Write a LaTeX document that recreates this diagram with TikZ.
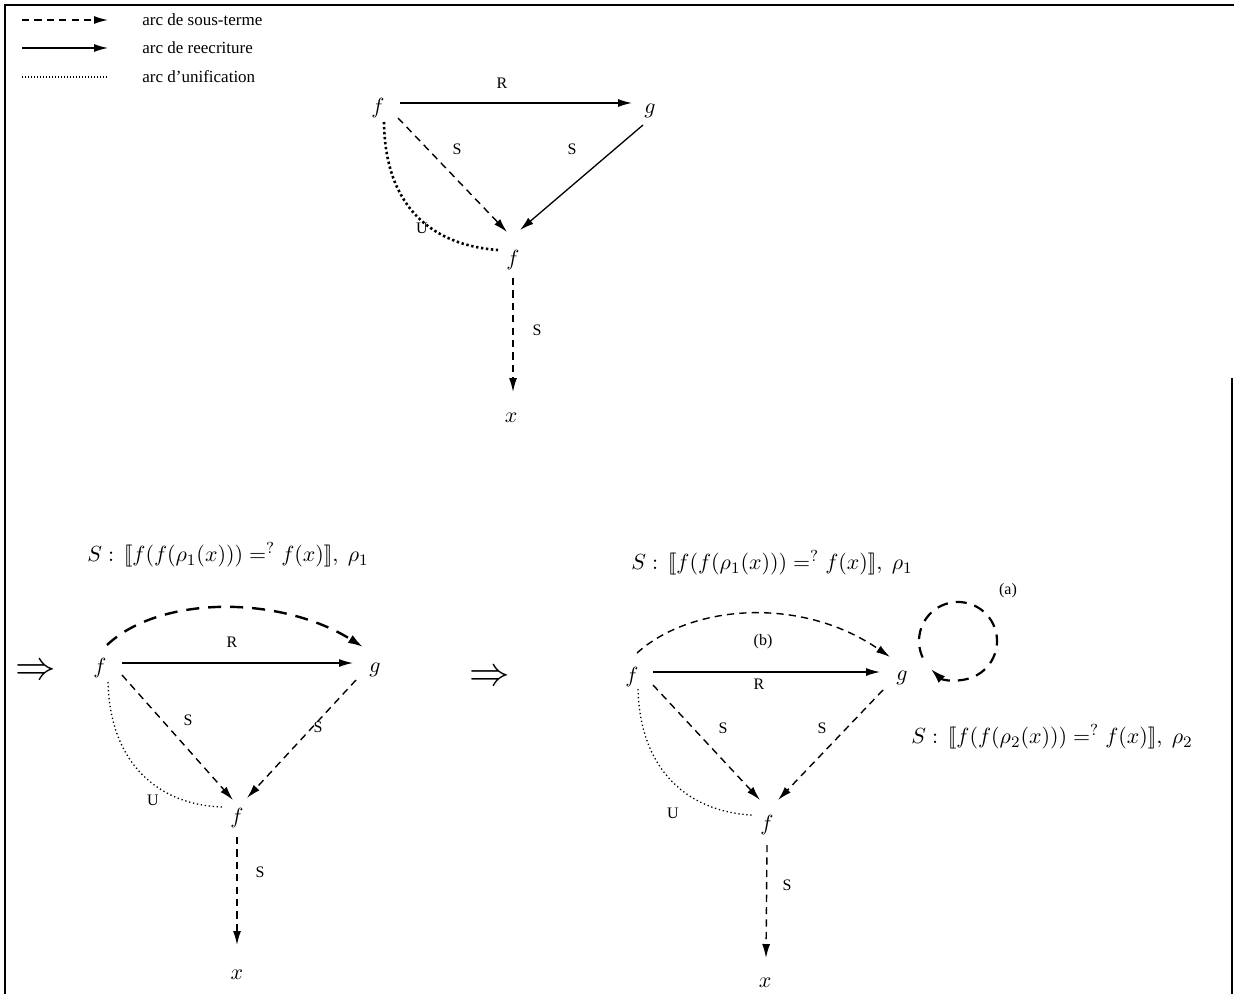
\documentclass[tikz,border=0pt]{standalone}
\usepackage{fontspec}
\setmainfont{Liberation Serif}
\usetikzlibrary{arrows.meta}

\tikzset{
  tipA/.style={-{Latex[length=7pt,width=4pt]}},
  subarc/.style={tipA, line width=0.7pt, dash pattern=on 3.6pt off 2.6pt},
  rwarc/.style={tipA, line width=0.65pt},
  unifarc/.style={line width=0.65pt, dash pattern=on 0.65pt off 1.35pt},
  unifthick/.style={line width=1.3pt, dash pattern=on 1.2pt off 1.3pt},
  bigdash/.style={-{Latex[length=7.5pt,width=4.6pt]}, line width=1.2pt, dash pattern=on 6.5pt off 4.5pt},
  lbl/.style={font=\fontsize{8}{9}\selectfont, inner sep=0pt},
  leg/.style={font=\fontsize{8.5}{10}\selectfont, inner sep=0pt, anchor=west},
  vtx/.style={inner sep=0pt, font=\fontsize{11}{13}\selectfont},
  eqn/.style={inner sep=0pt, font=\fontsize{11.25}{13}\selectfont},
  frame/.style={line width=0.9pt}
}

\begin{document}
\begin{tikzpicture}[x=0.5pt,y=0.5pt]
\useasboundingbox (0,0) rectangle (1234,-994);

% frame
\draw[frame] (5,-994) -- (5,-5) -- (1234,-5);
\draw[frame] (1232,-378) -- (1232,-994);

% legend
\coordinate (la1) at (22,-20);  \coordinate (lb1) at (108,-20);
\coordinate (la2) at (22,-48);  \coordinate (lb2) at (108,-48);
\coordinate (la3) at (22,-77);  \coordinate (lb3) at (108,-77);
\draw[subarc] (la1) -- (lb1);
\draw[rwarc] (la2) -- (lb2);
\draw[line width=0.6pt, dash pattern=on 0.6pt off 0.9pt] (la3) -- (lb3);
\node[leg] (lt1) at (142,-20) {arc de sous-terme};
\node[leg] (lt2) at (142,-48) {arc de reecriture};
\node[leg] (lt3) at (142,-77) {arc d’unification};

% ---- top graph
\node[vtx] (f1t) at (378,-108) {$f$};
\node[vtx] (gt)  at (650,-111) {$g$};
\node[vtx] (f2t) at (513,-260) {$f$};
\node[vtx] (xt)  at (511,-418) {$x$};
\draw[rwarc] ([shift={(22,5)}]f1t.center) -- ([shift={(-18,8)}]gt.center);
\draw[subarc] ([shift={(20,-10)}]f1t.center) -- ([shift={(-6,28)}]f2t.center);
\draw[rwarc] ([shift={(-7,-14)}]gt.center) -- ([shift={(7,30)}]f2t.center);
\draw[unifthick] ([shift={(6,-14)}]f1t.center) .. controls (385,-205) and (430,-245) .. ([shift={(-15,10)}]f2t.center);
\draw[subarc] ([shift={(0,-18)}]f2t.center) -- ([shift={(2,26)}]xt.center);
\node[lbl] (tR)  at (502,-83)  {R};
\node[lbl] (tS1) at (457,-149) {S};
\node[lbl] (tS2) at (572,-149) {S};
\node[lbl] (tU)  at (422,-228) {U};
\node[lbl] (tS3) at (537,-330) {S};

% ---- transition arrows
\node[vtx] (imp1) at (36,-672) {\scalebox{1.85}{$\Rightarrow$}};
\node[vtx] (imp2) at (490,-678) {\scalebox{1.85}{$\Rightarrow$}};

% ---- bottom left graph
\node[eqn] (eqL) at (228,-555) {$S:\,[\![f(f(\rho_1(x)))=^{?}f(x)]\!],\ \rho_1$};
\node[vtx] (f1l) at (100,-668) {$f$};
\node[vtx] (gl)  at (375,-670) {$g$};
\node[vtx] (f2l) at (237,-818) {$f$};
\node[vtx] (xl)  at (237,-975) {$x$};
\draw[rwarc] ([shift={(22,5)}]f1l.center) -- ([shift={(-22,7)}]gl.center);
\draw[bigdash] ([shift={(7,23)}]f1l.center) .. controls (160,-595) and (280,-595) .. ([shift={(-12,23)}]gl.center);
\draw[subarc] ([shift={(22,-7)}]f1l.center) -- ([shift={(-4,18)}]f2l.center);
\draw[subarc] ([shift={(-19,-10)}]gl.center) -- ([shift={(10,20)}]f2l.center);
\draw[unifarc] ([shift={(8,-14)}]f1l.center) .. controls (110,-765) and (160,-805) .. ([shift={(-15,11)}]f2l.center);
\draw[subarc] ([shift={(0,-19)}]f2l.center) -- ([shift={(0,30)}]xl.center);
\node[lbl] (lR)  at (232,-642) {R};
\node[lbl] (lS1) at (188,-720) {S};
\node[lbl] (lS2) at (318,-727) {S};
\node[lbl] (lU)  at (153,-800) {U};
\node[lbl] (lS3) at (260,-872) {S};

% ---- bottom right graph
\node[eqn] (eqR1) at (772,-563) {$S:\,[\![f(f(\rho_1(x)))=^{?}f(x)]\!],\ \rho_1$};
\node[eqn] (eqR2) at (1052,-737) {$S:\,[\![f(f(\rho_2(x)))=^{?}f(x)]\!],\ \rho_2$};
\node[vtx] (f1r) at (632,-677) {$f$};
\node[vtx] (gr)  at (902,-678) {$g$};
\node[vtx] (f2r) at (767,-825) {$f$};
\node[vtx] (xr)  at (765,-983) {$x$};
\draw[rwarc] ([shift={(21,5)}]f1r.center) -- ([shift={(-22,6)}]gr.center);
\draw[subarc] ([shift={(5,24)}]f1r.center) .. controls (690,-605) and (800,-595) .. ([shift={(-12,21)}]gr.center);
\draw[subarc] ([shift={(21,-8)}]f1r.center) -- ([shift={(-7,25)}]f2r.center);
\draw[subarc] ([shift={(-19,-12)}]gr.center) -- ([shift={(11,25)}]f2r.center);
\draw[unifarc] ([shift={(6,-12)}]f1r.center) .. controls (640,-772) and (690,-812) .. ([shift={(-15,10)}]f2r.center);
\draw[subarc] ([shift={(0,-20)}]f2r.center) -- ([shift={(1,25)}]xr.center);
\node[lbl] (rR)  at (759,-684) {R};
\node[lbl] (rb)  at (763,-642) {(b)};
\node[lbl] (rS1) at (723,-728) {S};
\node[lbl] (rS2) at (822,-728) {S};
\node[lbl] (rU)  at (673,-813) {U};
\node[lbl] (rS3) at (787,-885) {S};

% loop (a)
\coordinate (loopc) at (958,-641);
\draw[bigdash, line width=1.1pt, dash pattern=on 5.5pt off 4pt] ([shift={(205:39)}]loopc) arc[start angle=205, end angle=-134, radius=39];
\node[lbl] (ra) at (1008,-591) {(a)};
\end{tikzpicture}
\end{document}
